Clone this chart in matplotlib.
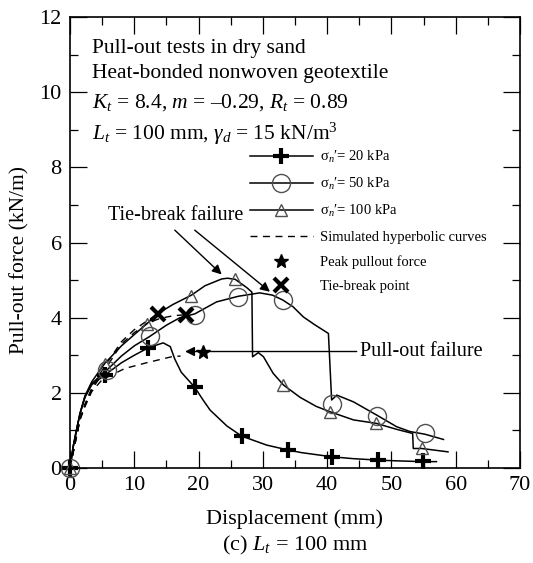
import matplotlib
matplotlib.use('Agg')
import matplotlib.pyplot as plt
from matplotlib.lines import Line2D
from matplotlib.ticker import MultipleLocator

plt.rcParams['font.family'] = ['Liberation Serif', 'DejaVu Serif']
plt.rcParams['mathtext.fontset'] = 'custom'
plt.rcParams['mathtext.rm'] = 'Liberation Serif'
plt.rcParams['mathtext.it'] = 'Liberation Serif:italic'

# measured curves (line traces)
x20 = [0, 0.5, 1.0, 1.56, 2.33, 3.4, 5.4, 8, 10, 12.2, 14.5, 15.6, 16.3, 17.3, 19.4, 20.7,
       21.8, 24.4, 26.7, 30.6, 33.9, 36, 40.7, 44, 47.9, 51, 54.9, 57]
y20 = [0, 0.57, 1.0, 1.45, 1.88, 2.22, 2.47, 2.8, 3.0, 3.2, 3.33, 3.23, 2.9, 2.55, 2.15, 1.81,
       1.54, 1.12, 0.85, 0.61, 0.48, 0.41, 0.30, 0.25, 0.21, 0.19, 0.17, 0.17]

x50 = [0, 0.5, 1.0, 1.56, 2.33, 3.4, 5.7, 8, 10, 12.4, 15, 17.1, 19.4, 22.8, 26.2, 29.5,
       31.5, 33.1, 34.7, 36.3, 38, 40.2, 40.7, 41.5, 44.1, 47.7, 50.8, 52.9, 55.2, 58.1]
y50 = [0, 0.57, 1.0, 1.45, 1.9, 2.25, 2.6, 2.98, 3.25, 3.5, 3.8, 4.0, 4.1, 4.42, 4.57, 4.66,
       4.6, 4.47, 4.29, 4.02, 3.82, 3.58, 1.81, 1.94, 1.76, 1.41, 1.10, 0.97, 0.90, 0.76]

x100 = [0, 0.5, 1.0, 1.56, 2.33, 3.4, 5.4, 8, 10, 11.9, 13.7, 16, 18.9, 21, 23.6, 24.5,
        25.7, 27.5, 28.3, 28.4, 29.3, 30.1, 31.6, 33.2, 35.8, 38.3, 40.4, 44.1, 47.6,
        50.8, 53.3, 53.4, 54.7, 58.8]
y100 = [0, 0.57, 1.0, 1.45, 1.92, 2.3, 2.78, 3.25, 3.55, 3.83, 4.11, 4.35, 4.6, 4.85, 5.03, 5.05,
        5.02, 4.8, 4.68, 2.96, 3.07, 2.96, 2.52, 2.21, 1.88, 1.64, 1.50, 1.28, 1.19,
        1.03, 0.92, 0.52, 0.52, 0.43]

# marker positions
mx20 = [0, 5.4, 12.2, 19.4, 26.7, 33.9, 40.8, 47.9, 54.9]
my20 = [0, 2.47, 3.2, 2.15, 0.85, 0.49, 0.30, 0.22, 0.18]
mx50 = [0, 5.7, 12.4, 19.4, 26.2, 33.1, 40.8, 47.8, 55.2]
my50 = [0, 2.6, 3.52, 4.07, 4.54, 4.47, 1.71, 1.39, 0.92]
mx100 = [0, 5.4, 12.0, 18.9, 25.7, 33.2, 40.4, 47.6, 54.7]
my100 = [0, 2.78, 3.83, 4.58, 5.03, 2.21, 1.50, 1.19, 0.52]

# simulated hyperbolic curves
hx20 = [0, 1.56, 2.33, 3.37, 5, 8.55, 11.9, 15.8, 17.2]
hy20 = [0, 1.28, 1.63, 2.03, 2.35, 2.65, 2.8, 2.96, 2.98]
hx50 = [0, 1.56, 2.33, 3.37, 5, 8, 10, 12, 14, 16, 18]
hy50 = [0, 1.3, 1.68, 2.08, 2.5, 3.3, 3.6, 3.85, 3.98, 4.05, 4.08]
hx100 = [0, 1.56, 2.33, 3.37, 5, 8, 10, 12, 13.7]
hy100 = [0, 1.3, 1.7, 2.12, 2.6, 3.36, 3.68, 3.92, 4.1]

peak_x, peak_y = [20.7], [3.09]
tie_x, tie_y = [13.7, 18.0], [4.1, 4.08]

fig = plt.figure(figsize=(5.33, 5.63), dpi=100)
ax = fig.add_axes([0.1313, 0.1687, 0.8443, 0.8011])

grey = '#505050'
sty20 = dict(color='k', marker='+', ms=12, mew=3, ls='none', clip_on=False)
sty50 = dict(mfc='none', mec=grey, marker='o', ms=13, mew=1, ls='none', clip_on=False)
sty100 = dict(mfc='none', mec=grey, marker='^', ms=9, mew=1, ls='none', clip_on=False)

ax.plot(hx20, hy20, 'k--', lw=1, dashes=(5, 4))
ax.plot(hx50, hy50, 'k--', lw=1, dashes=(5, 4))
ax.plot(hx100, hy100, 'k--', lw=1, dashes=(5, 4))

ax.plot(x20, y20, 'k-', lw=1.1)
ax.plot(x50, y50, 'k-', lw=1.1)
ax.plot(x100, y100, 'k-', lw=1.1)
ax.plot(mx20, my20, **sty20)
ax.plot(mx50, my50, **sty50)
ax.plot(mx100, my100, **sty100)
ax.plot(peak_x, peak_y, 'k*', ms=10)
ax.plot(tie_x, tie_y, 'kx', ms=10, mew=3)

ax.set_xlim(0, 70)
ax.set_ylim(0, 12)
ax.xaxis.set_major_locator(MultipleLocator(10))
ax.xaxis.set_minor_locator(MultipleLocator(5))
ax.yaxis.set_major_locator(MultipleLocator(2))
ax.yaxis.set_minor_locator(MultipleLocator(1))
ax.tick_params(which='both', direction='in', top=True, right=True, labelsize=16, width=0.9)
ax.tick_params(which='major', length=12, pad=6)
ax.tick_params(which='minor', length=6)
for s in ax.spines.values():
    s.set_linewidth(1.2)

ax.set_xlabel('Displacement (mm)', fontsize=16, labelpad=10)
fig.text(20 / 533, 1 - 260 / 563, 'Pull-out force (kN/m)', fontsize=15.5,
         rotation=90, ha='center', va='center')
fig.text(0.553, 0.022, '(c) $L_t$ = 100 mm', fontsize=16, ha='center', va='baseline')

# annotation block
ax.text(3.4, 11.04, 'Pull-out tests in dry sand', fontsize=15.5, va='baseline')
ax.text(3.4, 10.37, 'Heat-bonded nonwoven geotextile', fontsize=15.5, va='baseline')
ax.text(3.4, 9.6, '$K_t$ = 8.4, $m$ = \u20130.29, $R_t$ = 0.89', fontsize=15.5, va='baseline')
ax.text(3.4, 8.72, '$L_t$ = 100 mm, $\\gamma_d$ = 15 kN/m$^3$', fontsize=15.5, va='baseline')

# failure annotations
ax.text(5.9, 6.6, 'Tie-break failure', fontsize=14.5, va='baseline')
arrow = dict(arrowstyle='-|>', color='k', lw=1, mutation_scale=14, shrinkA=0, shrinkB=0)
ax.annotate('', xy=(23.6, 5.15), xytext=(16.3, 6.33), arrowprops=arrow)
ax.annotate('', xy=(31.1, 4.69), xytext=(19.4, 6.33), arrowprops=arrow)
ax.annotate('', xy=(17.9, 3.1), xytext=(44.6, 3.1), arrowprops=arrow)
ax.text(45.1, 3.1, 'Pull-out failure', fontsize=14.5, va='center')

handles = [
    Line2D([], [], color='k', lw=1.1, marker='+', ms=12, mew=3),
    Line2D([], [], color='k', lw=1.1, marker='o', ms=13, mew=1, mfc='none', mec=grey),
    Line2D([], [], color='k', lw=1.1, marker='^', ms=9, mew=1, mfc='none', mec=grey),
    Line2D([], [], color='k', lw=1, ls='--', dashes=(5, 4)),
    Line2D([], [], color='k', ls='none', marker='*', ms=10),
    Line2D([], [], color='k', ls='none', marker='x', ms=10, mew=3),
]
labels = ["\u03c3$_n$\u2032= 20 kPa", "\u03c3$_n$\u2032= 50 kPa", "\u03c3$_n$\u2032= 100 kPa",
          'Simulated hyperbolic curves', 'Peak pullout force', 'Tie-break point']
ax.legend(handles, labels, loc='upper left', bbox_to_anchor=(0.4, 0.708), frameon=False,
          fontsize=10.5, handlelength=4.3, handletextpad=0.5, labelspacing=0.77,
          borderpad=0, borderaxespad=0, numpoints=1)

fig.savefig('out.png', dpi=100)
